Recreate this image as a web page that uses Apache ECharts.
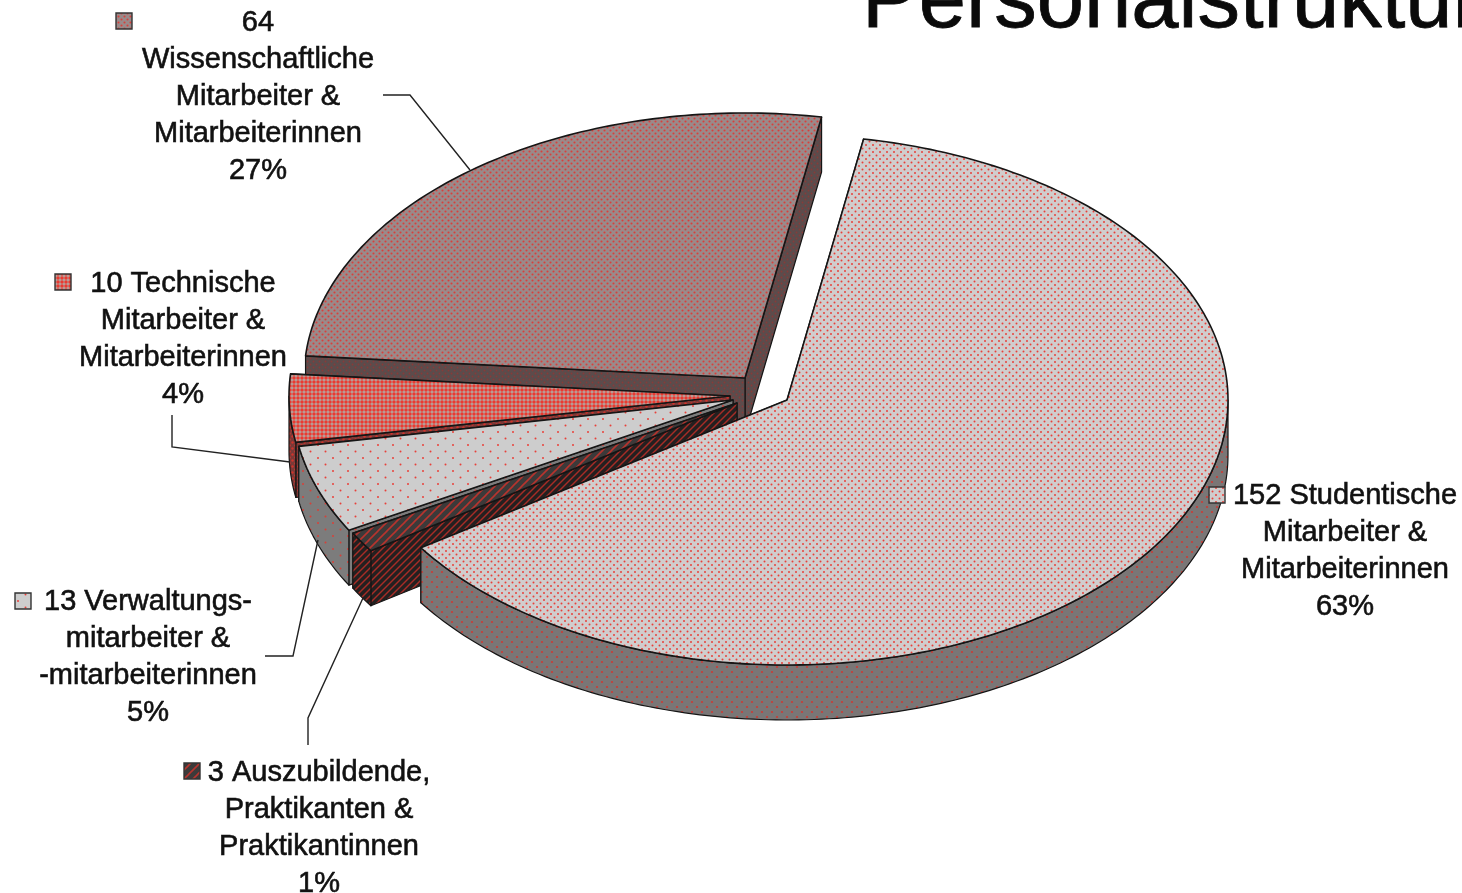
<!DOCTYPE html>
<html><head><meta charset="utf-8">
<script src="https://cdn.jsdelivr.net/npm/echarts@6/dist/echarts.min.js"></script>
<style>html,body{margin:0;padding:0;background:#fff;overflow:hidden}#c{width:1462px;height:893px;filter:blur(0.55px)}</style>
</head><body><div id="c"></div>
<script>
// ---- data (drawing order: back to front) ----
var categories = ['Wissenschaftliche\nMitarbeiter &\nMitarbeiterinnen','Technische\nMitarbeiter &\nMitarbeiterinnen','Verwaltungs-\nmitarbeiter &\n-mitarbeiterinnen','Auszubildende,\nPraktikanten &\nPraktikantinnen','Studentische\nMitarbeiter &\nMitarbeiterinnen'];
var values = [64,10,13,3,152];
var percents = [27,4,5,1,63];

// ---- layout / style ----
var RX=441, RY=265, DEPTH=55, START=370;
var apex=[[745,378],[730,396],[733,400],[737,403],[787,400]];
var labelSeps=['\n',' ',' ',' ',' '];
var labelPos=[[258,4],[183,265],[148,583],[319,754],[1345,477]];
var keyPos=[[124,21],[63,282],[23,601],[192,771],[1217,495]];
var leaders=[[[383,95],[410,95],[470,170]],[[172,415],[172,447],[290,462]],[[265,656],[293,656],[318,540]],[[308,745],[308,718],[363,598]]];
function dots(bg,w,h,pts,r,col){var c=document.createElement('canvas');c.width=w;c.height=h;var x=c.getContext('2d');x.fillStyle=bg;x.fillRect(0,0,w,h);x.fillStyle=col||'#e8403a';pts.forEach(function(p){x.beginPath();x.arc(p[0],p[1],r,0,7);x.fill();});return {image:c,repeat:'repeat'};}
function diag(bg,n,lw,col){var c=document.createElement('canvas');c.width=n;c.height=n;var x=c.getContext('2d');x.fillStyle=bg;x.fillRect(0,0,n,n);x.strokeStyle=col;x.lineWidth=lw;[[0,n,n,0],[-n,n,n,-n],[0,2*n,2*n,0]].forEach(function(l){x.beginPath();x.moveTo(l[0],l[1]);x.lineTo(l[2],l[3]);x.stroke();});return {image:c,repeat:'repeat'};}
var topFill=[
 dots('#9a8a8a',6,6,[[1.5,1.5],[4.5,4.5]],1.05,'#d8403c'),
 dots('#b5a5a0',8,8,[[2,2],[6,6],[2,6],[6,2]],1.75,'#ea3a30'),
 dots('#cdcdcd',15,13,[[3,3],[10.5,9.5]],1,'#e8403a'),
 diag('#3c3a3a',9,1.6,'#b8342e'),
 dots('#d0cdcd',7,7,[[1.5,1.5],[5,5]],1,'#e8403a')];
var wallFill=[
 dots('#5c4c4c',6,6,[[1.5,1.5],[4.5,4.5]],0.9,'#8a3a38'),
 dots('#7a3a38',6,6,[[1.5,1.5],[4.5,4.5]],1.2,'#d0342c'),
 dots('#7c7c7c',15,13,[[3,3],[10.5,9.5]],1,'#d84038'),
 diag('#242020',7,1.4,'#a82c26'),
 dots('#7a7676',10,10,[[2,2],[7,7]],1.1,'#cc3c36')];

function pt(c,a,dz){var t=a*Math.PI/180;return [c[0]+RX*Math.sin(t),c[1]-RY*Math.cos(t)+(dz||0)];}
function arc(c,a0,a1,dz){var o=[],n=Math.max(2,Math.ceil(Math.abs(a1-a0)));for(var i=0;i<=n;i++)o.push(pt(c,a0+(a1-a0)*i/n,dz));return o;}
var total=values.reduce(function(s,v){return s+v;},0);
function poly(points,fill,lw,z){return {type:'polygon',z2:z,shape:{points:points},style:{fill:fill,stroke:'#151515',lineWidth:lw,lineJoin:'round'}};}

function renderItem(params,api){
  var i=params.dataIndex,before=0;
  for(var k=0;k<i;k++)before+=values[k];
  var a1=START-before/total*360,a0=a1-api.value(0)/total*360;
  var c=apex[i],kids=[],down=[c[0],c[1]+DEPTH];
  [a1,a0].forEach(function(a){var p=pt(c,a),q=pt(c,a,DEPTH);kids.push(poly([c,p,q,down],wallFill[i],1.2,i*3));});
  var lo=Math.max(a0,90),hi=Math.min(a1,270);
  if(hi>lo){kids.push(poly(arc(c,lo,hi,0).concat(arc(c,hi,lo,DEPTH)),wallFill[i],1.2,i*3+1));}
  kids.push(poly([c].concat(arc(c,a0,a1,0)),topFill[i],1.6,i*3+2));
  return {type:'group',children:kids};
}

var graphicEls=[];
categories.forEach(function(cat,i){
  var val=String(values[i]);
  graphicEls.push({type:'text',z:20,x:labelPos[i][0],y:labelPos[i][1],style:{text:val+labelSeps[i]+cat+'\n'+percents[i]+'%',font:'29px "Liberation Sans"',fill:'#111',stroke:'#111',lineWidth:0.6,align:'center',verticalAlign:'top',lineHeight:37}});
  graphicEls.push({type:'rect',z:21,shape:{x:keyPos[i][0]-8,y:keyPos[i][1]-8,width:16,height:16},style:{fill:topFill[i],stroke:'#333',lineWidth:1.4}});
});
leaders.forEach(function(l){graphicEls.push({type:'polyline',z:5,shape:{points:l},style:{stroke:'#222',lineWidth:1.4,fill:null}});});

var chart=echarts.init(document.getElementById('c'),null,{renderer:'canvas'});
chart.setOption({
  animation:false,
  backgroundColor:'#fff',
  title:{text:'Personalstruktur',left:857,top:-44,textStyle:{fontFamily:'Liberation Sans',fontWeight:'normal',fontSize:85,color:'#0a0a0a',textBorderColor:'#0a0a0a',textBorderWidth:0.8}},
  graphic:graphicEls,
  series:[{type:'custom',coordinateSystem:'none',renderItem:renderItem,data:values.map(function(v,i){return {name:categories[i],value:[v]};}),z:3}]
});
</script></body></html>
